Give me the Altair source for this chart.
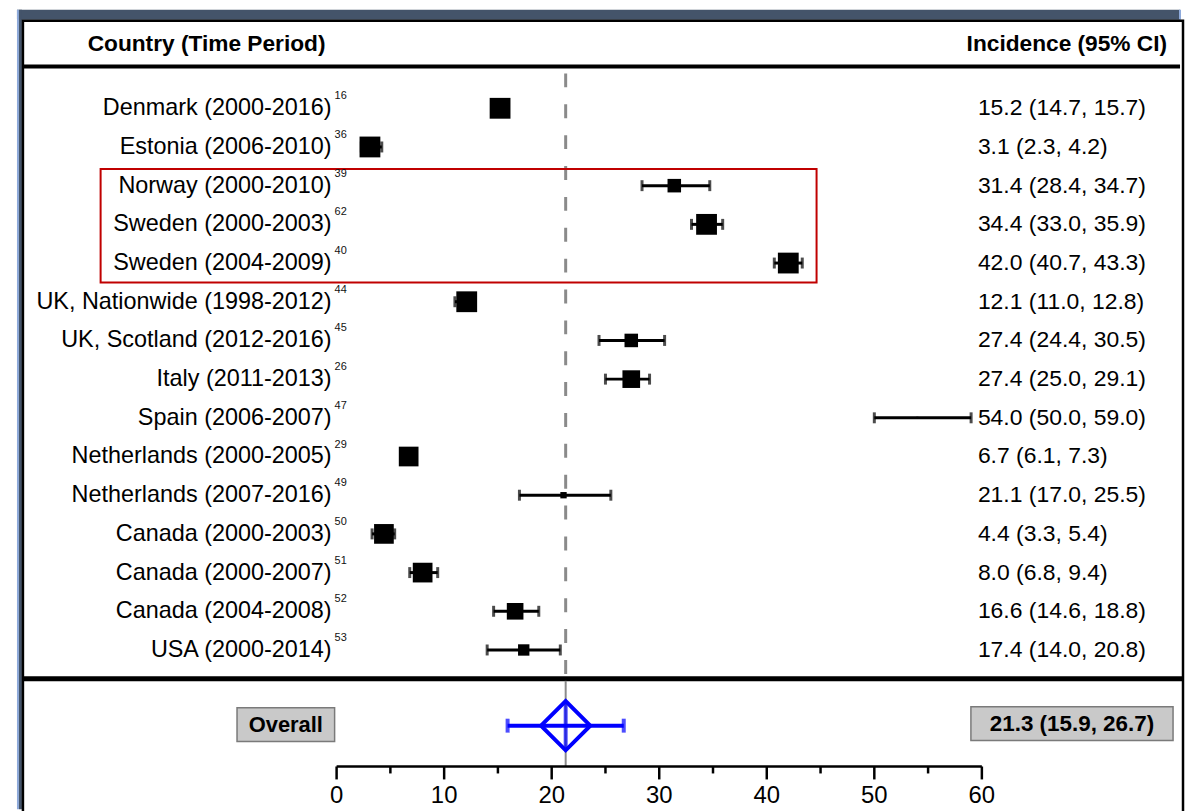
import altair as alt
import pandas as pd

labels = ["Denmark (2000-2016)", "Estonia (2006-2010)", "Norway (2000-2010)",
          "Sweden (2000-2003)", "Sweden (2004-2009)", "UK, Nationwide (1998-2012)",
          "UK, Scotland (2012-2016)", "Italy (2011-2013)", "Spain (2006-2007)",
          "Netherlands (2000-2005)", "Netherlands (2007-2016)", "Canada (2000-2003)",
          "Canada (2000-2007)", "Canada (2004-2008)", "USA (2000-2014)"]
refs = ["16", "36", "39", "62", "40", "44", "45", "26", "47", "29", "49", "50", "51", "52", "53"]
est = [15.2, 3.1, 31.4, 34.4, 42.0, 12.1, 27.4, 27.4, 54.0, 6.7, 21.1, 4.4, 8.0, 16.6, 17.4]
lo = [14.7, 2.3, 28.4, 33.0, 40.7, 11.0, 24.4, 25.0, 50.0, 6.1, 17.0, 3.3, 6.8, 14.6, 14.0]
hi = [15.7, 4.2, 34.7, 35.9, 43.3, 12.8, 30.5, 29.1, 59.0, 7.3, 25.5, 5.4, 9.4, 18.8, 20.8]
weights = [9.7, 9.7, 4.1, 9.7, 9.7, 9.7, 4.1, 7.0, 0.1, 8.7, 0.9, 8.7, 8.7, 6.2, 2.9]

overall_est = [21.3]
overall_lo = [15.9]
overall_hi = [26.7]

major_ticks = [0, 10, 20, 30, 40, 50, 60]
minor_ticks = [5, 15, 25, 35, 45, 55]

FONT = "Liberation Sans"

df = pd.DataFrame({
    "row": list(range(len(labels))),
    "label": labels,
    "ref": refs,
    "est": est,
    "lo": lo,
    "hi": hi,
    "w": weights,
})
df["ci"] = [f"{e:.1f} ({l:.1f}, {h:.1f})" for e, l, h in zip(est, lo, hi)]

ov = pd.DataFrame({"est": overall_est, "lo": overall_lo, "hi": overall_hi})
ov["ci"] = [f"{e:.1f} ({l:.1f}, {h:.1f})" for e, l, h in zip(overall_est, overall_lo, overall_hi)]

major_df = pd.DataFrame({"v": major_ticks})
minor_df = pd.DataFrame({"v": minor_ticks})

xs = alt.Scale(domain=[0, 60], range=[330, 978])
ys = alt.Scale(domain=[0, len(labels) - 1], range=[99, 643])


def X(field):
    return alt.X(field, type="quantitative", scale=xs, axis=None)


def Y():
    return alt.Y("row:Q", scale=ys, axis=None)


base = alt.Chart(df)

# frame decorations
frame_df = pd.DataFrame({"k": [0]})
fb = alt.Chart(frame_df)
band = fb.mark_rect(color="#44546a").encode(
    x=alt.value(9), x2=alt.value(1177), y=alt.value(0), y2=alt.value(10))
band_edge = fb.mark_rule(color="#8eaadb", strokeWidth=2).encode(
    x=alt.value(1177), y=alt.value(0), y2=alt.value(10))
lightblue = fb.mark_rule(color="#8eaadb", strokeWidth=2).encode(
    x=alt.value(10), y=alt.value(0), y2=alt.value(803))
darkstrip = fb.mark_rect(color="#44546a").encode(
    x=alt.value(11), x2=alt.value(14), y=alt.value(0), y2=alt.value(803))
white_panel = fb.mark_rect(color="white", stroke="black", strokeWidth=2.5).encode(
    x=alt.value(15), x2=alt.value(1180), y=alt.value(11), y2=alt.value(820))
header_line = fb.mark_rule(color="black", strokeWidth=4).encode(
    x=alt.value(15), x2=alt.value(1177), y=alt.value(57))
sep_line = fb.mark_rule(color="black", strokeWidth=5).encode(
    x=alt.value(15), x2=alt.value(1180), y=alt.value(672))
hdr_left = fb.mark_text(font=FONT, fontSize=22.8, fontWeight="bold", align="left",
                        baseline="middle", color="black").encode(
    x=alt.value(80), y=alt.value(34), text=alt.value("Country (Time Period)"))
hdr_right = fb.mark_text(font=FONT, fontSize=22.8, fontWeight="bold", align="right",
                         baseline="middle", color="black").encode(
    x=alt.value(1164), y=alt.value(34), text=alt.value("Incidence (95% CI)"))
red_box = fb.mark_rect(fillOpacity=0, stroke="#c00000", strokeWidth=2).encode(
    x=alt.value(93), x2=alt.value(812), y=alt.value(160), y2=alt.value(274))

# reference line at overall estimate
ovc = alt.Chart(ov)
dash_line = ovc.mark_rule(color="#8a8a8a", strokeWidth=3, strokeDash=[14, 17]).encode(
    x=X("est"), y=alt.value(64), y2=alt.value(670))
solid_line = ovc.mark_rule(color="#8a8a8a", strokeWidth=2).encode(
    x=X("est"), y=alt.value(674), y2=alt.value(760))

# study rows
ci_rule = base.mark_rule(color="black", strokeWidth=3).encode(
    x=X("lo"), x2="hi", y=Y())
cap_lo = base.mark_tick(orient="vertical", size=11, thickness=3, color="black").encode(
    x=X("lo"), y=Y())
cap_hi = base.mark_tick(orient="vertical", size=11, thickness=3, color="black").encode(
    x=X("hi"), y=Y())
squares = base.mark_square(color="black", opacity=1).encode(
    x=X("est"), y=Y(),
    size=alt.Size("w:Q", scale=alt.Scale(domain=[0, 10], range=[0, 450]), legend=None))
lab = base.mark_text(font=FONT, fontSize=23.5, align="right", baseline="middle",
                     color="black").encode(x=alt.value(325), y=Y(), text="label:N")
sup = base.mark_text(font=FONT, fontSize=11, align="left", baseline="middle",
                     dy=-12, color="#111111").encode(x=alt.value(328), y=Y(), text="ref:N")
ci_txt = base.mark_text(font=FONT, fontSize=23, align="left", baseline="middle",
                        color="black").encode(x=alt.value(974), y=Y(), text="ci:N")

# overall
OY = 719
ov_rule = ovc.mark_rule(color="#0000ff", strokeWidth=4).encode(
    x=X("lo"), x2="hi", y=alt.value(OY))
ov_cap_lo = ovc.mark_tick(orient="vertical", size=14, thickness=4, color="#0000ff").encode(
    x=X("lo"), y=alt.value(OY))
ov_cap_hi = ovc.mark_tick(orient="vertical", size=14, thickness=4, color="#0000ff").encode(
    x=X("hi"), y=alt.value(OY))
ov_vert = ovc.mark_tick(orient="vertical", size=48, thickness=4, color="#0000ff").encode(
    x=X("est"), y=alt.value(OY))
ov_diamond = ovc.mark_point(shape="diamond", filled=False, size=2450, color="#0000ff",
                            strokeWidth=4, opacity=1).encode(x=X("est"), y=alt.value(OY))
ov_box_l = fb.mark_rect(fill="#c9c9c9", stroke="#7a7a7a", strokeWidth=1.5).encode(
    x=alt.value(230), x2=alt.value(328), y=alt.value(701), y2=alt.value(735))
ov_txt_l = fb.mark_text(font=FONT, fontSize=22, fontWeight="bold", align="center",
                        baseline="middle", color="black").encode(
    x=alt.value(279), y=alt.value(718), text=alt.value("Overall"))
ov_box_r = fb.mark_rect(fill="#c9c9c9", stroke="#7a7a7a", strokeWidth=1.5).encode(
    x=alt.value(967), x2=alt.value(1170), y=alt.value(700), y2=alt.value(734))
ov_txt_r = ovc.mark_text(font=FONT, fontSize=22.5, fontWeight="bold", align="center",
                         baseline="middle", color="black").encode(
    x=alt.value(1068.5), y=alt.value(717), text="ci:N")

# axis
axis_line = alt.Chart(pd.DataFrame({"a": [major_ticks[0]], "b": [major_ticks[-1]]})).mark_rule(
    color="black", strokeWidth=2.5).encode(x=X("a"), x2="b", y=alt.value(760))
maj = alt.Chart(major_df).mark_rule(color="black", strokeWidth=2.5).encode(
    x=X("v"), y=alt.value(760), y2=alt.value(773))
mnr = alt.Chart(minor_df).mark_rule(color="black", strokeWidth=2.5).encode(
    x=X("v"), y=alt.value(760), y2=alt.value(767))
maj_lab = alt.Chart(major_df).mark_text(font=FONT, fontSize=24, align="center",
                                        baseline="top", color="black").encode(
    x=X("v"), y=alt.value(778), text="v:Q")

chart = alt.layer(
    band, band_edge, lightblue, darkstrip, white_panel, header_line, sep_line, hdr_left, hdr_right,
    dash_line, solid_line, red_box,
    ci_rule, cap_lo, cap_hi, squares, lab, sup, ci_txt,
    ov_rule, ov_cap_lo, ov_cap_hi, ov_vert, ov_diamond,
    ov_box_l, ov_txt_l, ov_box_r, ov_txt_r,
    axis_line, maj, mnr, maj_lab,
).properties(
    width=1182, height=803, padding=0, autosize="none", background="white"
).configure_view(stroke=None)

chart.save("out.html", embed_options={"renderer": "svg", "actions": False})
